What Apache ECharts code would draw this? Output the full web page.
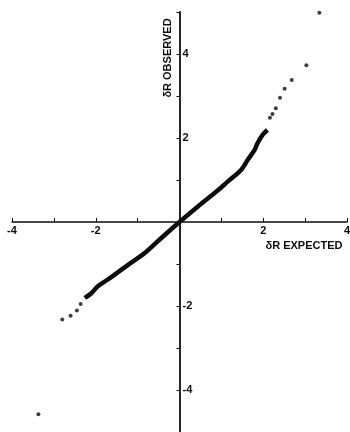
<!DOCTYPE html>
<html>
<head>
<meta charset="utf-8">
<script src="https://cdn.jsdelivr.net/npm/echarts@6/dist/echarts.min.js"></script>
<style>
  html, body { margin: 0; padding: 0; background: #fff; }
  #chart { width: 350px; height: 432px; }
</style>
</head>
<body>
<div id="chart"></div>
<script>
// dense part of the Q-Q curve (expected, observed)
const bandX = [-2.26, -2.10, -1.95, -1.71, -1.23, -0.83, -0.40, 0, 0.44, 0.91, 1.15, 1.47, 1.63, 1.79, 1.86, 1.98, 2.10]
const bandY = [-1.81, -1.69, -1.53, -1.37, -1.02, -0.74, -0.35, 0, 0.37, 0.75, 0.96, 1.24, 1.48, 1.71, 1.87, 2.07, 2.19]
// sparse points in the tails
const tailX = [-3.37, -2.80, -2.60, -2.45, -2.36, 2.16, 2.22, 2.30, 2.40, 2.51, 2.68, 3.03, 3.34]
const tailY = [-4.58, -2.32, -2.23, -2.11, -1.95, 2.48, 2.57, 2.71, 2.96, 3.17, 3.38, 3.73, 4.98]
const xTitle = 'δR EXPECTED'
const yTitle = 'δR OBSERVED'

const chart = echarts.init(document.getElementById('chart'))
const ink = '#0d0d0d'
const font = 'Liberation Sans, Arial, sans-serif'

// grid in pixels; the axes are shifted onto the origin with offset
const gLeft = 12, gRight = 3, gTop = 12, gBottom = 0
const plotW = 350 - gLeft - gRight
const plotH = 432 - gTop - gBottom

// only even, non-zero values get a label
function tickLabel(v) {
  return (v % 2 === 0 && v !== 0) ? String(v) : ''
}

chart.setOption({
  animation: false,
  grid: { left: gLeft, right: gRight, top: gTop, bottom: gBottom, containLabel: false, outerBoundsMode: 'none' },
  xAxis: {
    type: 'value',
    min: -4, max: 4, interval: 1,
    position: 'bottom',
    offset: -plotH / 2,
    axisLine: { onZero: false, lineStyle: { color: ink, width: 1.5 } },
    axisTick: { inside: true, length: 4, lineStyle: { color: ink } },
    axisLabel: {
      formatter: tickLabel, margin: 3, showMinLabel: true, showMaxLabel: true,
      color: ink, fontFamily: font, fontWeight: 'bold', fontSize: 11
    },
    splitLine: { show: false }
  },
  yAxis: {
    type: 'value',
    min: -5, max: 5, interval: 1,
    position: 'left',
    offset: -plotW / 2,
    axisLine: { onZero: false, lineStyle: { color: ink, width: 1.8 } },
    axisTick: { inside: false, length: 3, lineStyle: { color: ink } },
    axisLabel: {
      inside: true, formatter: tickLabel, margin: 3,
      color: ink, fontFamily: font, fontWeight: 'bold', fontSize: 11
    },
    splitLine: { show: false }
  },
  graphic: [
    {
      type: 'text', x: 168, y: 58, rotation: Math.PI / 2,
      style: { text: yTitle, fill: ink, font: 'bold 11px ' + font, align: 'center', verticalAlign: 'middle' }
    },
    {
      type: 'text', x: 304, y: 246,
      style: { text: xTitle, fill: ink, font: 'bold 11px ' + font, align: 'center', verticalAlign: 'middle' }
    }
  ],
  series: [
    {
      type: 'line',
      data: bandX.map((x, i) => [x, bandY[i]]),
      symbol: 'none',
      smooth: 0.3,
      lineStyle: { color: ink, width: 4.5 }
    },
    {
      type: 'scatter',
      data: tailX.map((x, i) => [x, tailY[i]]),
      symbolSize: 4,
      itemStyle: { color: ink }
    }
  ]
})
</script>
</body>
</html>
